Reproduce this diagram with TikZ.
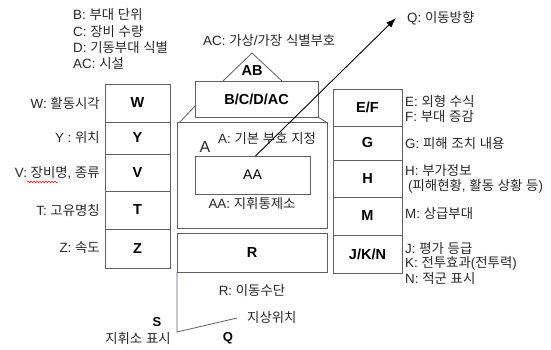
\documentclass[tikz,border=0pt]{standalone}
\usepackage{fontspec}
\setmainfont{Liberation Sans}
\newfontfamily\kr{Noto Sans CJK KR}
\newcommand\K[1]{{\kr #1}}
\usetikzlibrary{arrows.meta,decorations.pathmorphing,calc}
\definecolor{txtc}{RGB}{40,40,40}
\definecolor{linec}{RGB}{95,95,105}
\begin{document}
\begin{tikzpicture}[x=1pt,y=-1pt,
  txt/.style={font=\fontsize{13.4}{15}\selectfont, text=txtc, inner sep=0pt},
  bx/.style={draw=linec, line width=0.8pt, inner sep=0pt, outer sep=0pt, anchor=north west,
     font=\fontsize{14.5}{16}\selectfont\bfseries, text=black},
  ln/.style={draw=linec, line width=0.8pt}]
\useasboundingbox[fill=white] (0,0) rectangle (551,349);

% top-left legend
\node[txt, anchor=west] (tB) at (73,14) {B: \K{부대} \K{단위}};
\node[txt, anchor=west] (tC) at (73,31) {C: \K{장비} \K{수량}};
\node[txt, anchor=west] (tD) at (73,47) {D: \K{기동부대} \K{식별}};
\node[txt, anchor=west] (tAC) at (73,63) {AC: \K{시설}};
\node[txt, anchor=west] (tAC2) at (203,40) {AC: \K{가상}/\K{가장} \K{식별부호}};
\node[txt, anchor=west] (tQ) at (407,18) {Q: \K{이동방향}};

% left column
\node[bx, minimum width=65pt, minimum height=38pt] (W) at (105,84) {W};
\node[bx, minimum width=65pt, minimum height=32pt] (Y) at (105,122) {Y};
\node[bx, minimum width=65pt, minimum height=37pt] (V) at (105,154) {V};
\node[bx, minimum width=65pt, minimum height=38pt] (T) at (105,191) {T};
\node[bx, minimum width=65pt, minimum height=39pt] (Z) at (105,229) {Z};
\node[txt, anchor=east] (tW) at (100,103) {W: \K{활동시각}};
\node[txt, anchor=east] (tY) at (100,137) {Y : \K{위치}};
\node[txt, anchor=east] (tV) at (100,173) {V: \K{장비명}, \K{종류}};
\node[txt, anchor=east] (tT) at (100,210) {T: \K{고유명칭}};
\node[txt, anchor=east] (tZ) at (100,248) {Z: \K{속도}};
\coordinate (wv1) at (27,182);
\coordinate (wv2) at (58,182);
\draw[red, line width=0.5pt, decorate, decoration={snake, amplitude=0.8pt, segment length=3pt}] (wv1) -- (wv2);

% central body
\node[bx, minimum width=150pt, minimum height=106pt] (A) at (177,122) {};
\node[bx, minimum width=150pt, minimum height=39pt] (R) at (177,233) {R};
\node[bx, minimum width=123pt, minimum height=36pt] (BC) at (195,81) {B/C/D/AC};
\node[bx, minimum width=115pt, minimum height=38pt, font=\fontsize{14}{16}\selectfont] (AA) at (195,156) {AA};

% roof triangle
\coordinate (tl) at (223,81);
\coordinate (tt) at (252,53);
\coordinate (tr) at (282,81);
\draw[ln] (tl) -- (tt) -- (tr);
\node[font=\fontsize{14.5}{16}\selectfont\bfseries, inner sep=0pt] (AB) at (252,71) {AB};

% 3D joins
\coordinate (j1) at (180,122);
\coordinate (j2) at (195,106);
\coordinate (j3) at (318,117);
\coordinate (j4) at (326,122);
\draw[ln] (j1) -- (j2);
\draw[ln] (j3) -- (j4);

\node[font=\fontsize{16}{18}\selectfont, text=txtc, inner sep=0pt] (bigA) at (205,147) {A};
\node[txt, anchor=west] (tA) at (218,138) {A: \K{기본} \K{부호} \K{지정}};
\node[txt] (tAA) at (252,203) {AA: \K{지휘통제소}};
\node[txt] (tR) at (252,290) {R: \K{이동수단}};

% direction arrow
\coordinate (qtip) at (396,18);
\draw[line width=0.9pt, black, -{Latex[length=10pt,width=7pt]}] ($(AA.north)+(3,0)$) -- (qtip);

% staff / ground leg
\coordinate (legbot) at (177,332);
\coordinate (gnd) at (237,318);
\draw[ln] (R.south west) -- (legbot) -- (gnd);
\node[txt, anchor=west] (tG) at (247,317) {\K{지상위치}};
\node[font=\fontsize{13}{15}\selectfont\bfseries, inner sep=0pt] (S) at (157,322) {S};
\node[txt] (tS) at (138,338) {\K{지휘소} \K{표시}};
\node[font=\fontsize{13}{15}\selectfont\bfseries, inner sep=0pt] (Q) at (228,338) {Q};

% right column
\node[bx, minimum width=69pt, minimum height=37pt] (EF) at (333,89) {E/F};
\node[bx, minimum width=69pt, minimum height=34pt] (G) at (333,126) {G};
\node[bx, minimum width=69pt, minimum height=37pt] (H) at (333,160) {H};
\node[bx, minimum width=69pt, minimum height=38pt] (M) at (333,197) {M};
\node[bx, minimum width=69pt, minimum height=38pt] (JKN) at (333,235) {J/K/N};
\node[txt, anchor=west] (tE) at (405,101) {E: \K{외형} \K{수식}};
\node[txt, anchor=west] (tF) at (405,116) {F: \K{부대} \K{증감}};
\node[txt, anchor=west] (tGG) at (405,143) {G: \K{피해} \K{조치} \K{내용}};
\node[txt, anchor=west] (tH) at (405,170) {H: \K{부가정보}};
\node[txt, anchor=west] (tH2) at (408,186) {(\K{피해현황}, \K{활동} \K{상황} \K{등})};
\node[txt, anchor=west] (tM) at (405,213) {M: \K{상급부대}};
\node[txt, anchor=west] (tJ) at (405,248) {J: \K{평가} \K{등급}};
\node[txt, anchor=west] (tK) at (405,263) {K: \K{전투효과}(\K{전투력})};
\node[txt, anchor=west] (tN) at (405,278) {N: \K{적군} \K{표시}};
\end{tikzpicture}
\end{document}
